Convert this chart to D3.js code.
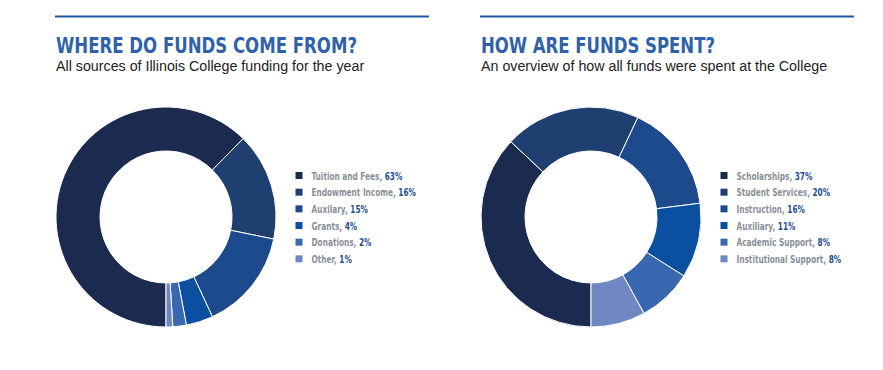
<!DOCTYPE html>
<html>
<head>
<meta charset="utf-8">
<script src="https://cdn.jsdelivr.net/npm/d3@7"></script>
<style>
  body { margin: 0; background: #fff; }
  .title { font-family: "DejaVu Sans Condensed", "DejaVu Sans", sans-serif; font-weight: bold; fill: #2f62a8; }
  .sub { font-family: "Liberation Sans", Arial, sans-serif; fill: #222; }
  .leg { font-family: "DejaVu Sans Condensed", "DejaVu Sans", sans-serif; font-weight: bold; }
</style>
</head>
<body>
<svg id="chart" width="883" height="370"></svg>
<script>
// Funds sources
const sourceLabels = ["Tuition and Fees", "Endowment Income", "Auxilary", "Grants", "Donations", "Other"];
const sourceValues = [63, 16, 15, 4, 2, 1];

// Funds spent
const spentLabels = ["Scholarships", "Student Services", "Instruction", "Auxiliary", "Academic Support", "Institutional Support"];
const spentValues = [37, 20, 16, 11, 8, 8];

const palette = ["#1b2a4f", "#1f3f70", "#1c4a8c", "#0a4fa0", "#3a68b0", "#6f88c4"];

const svg = d3.select("#chart");

function drawPanel(x0, title, titleWidth, subtitle, labels, values, cx, legendX) {
  const g = svg.append("g");

  // top rule
  g.append("line")
    .attr("x1", x0).attr("x2", x0 + 374)
    .attr("y1", 16.5).attr("y2", 16.5)
    .attr("stroke", "#1f57a0").attr("stroke-width", 2);

  // condensed look: squeeze the bold title to the reference width
  g.append("text").attr("class", "title")
    .attr("x", x0 + 1).attr("y", 53)
    .attr("font-size", 22)
    .attr("textLength", titleWidth)
    .attr("lengthAdjust", "spacingAndGlyphs")
    .text(title);

  g.append("text").attr("class", "sub")
    .attr("x", x0 + 1).attr("y", 71)
    .attr("font-size", 14.25)
    .text(subtitle);

  const data = labels.map((l, i) => ({ label: l, value: values[i] }));

  const pie = d3.pie()
    .value(d => d.value)
    .sort(null)
    .startAngle(Math.PI)
    .endAngle(Math.PI * 3);

  const arc = d3.arc().innerRadius(66).outerRadius(110);

  const donut = g.append("g").attr("transform", "translate(" + cx + ",217)");
  donut.selectAll("path")
    .data(pie(data))
    .enter().append("path")
    .attr("d", arc)
    .attr("fill", (d, i) => palette[i])
    .attr("stroke", "#fff")
    .attr("stroke-width", 1);

  const y = d3.scaleBand()
    .domain(labels)
    .range([167, 267]);

  const leg = g.selectAll(".legrow")
    .data(data)
    .enter().append("g")
    .attr("transform", d => "translate(" + legendX + "," + y(d.label) + ")");

  leg.append("rect")
    .attr("x", 0).attr("y", 5)
    .attr("width", 7).attr("height", 7)
    .attr("fill", (d, i) => palette[i]);

  const t = leg.append("text").attr("class", "leg")
    .attr("transform", "translate(16,12.5) scale(0.78,1)")
    .attr("font-size", 10.5);
  t.append("tspan").attr("fill", "#8a8f99").text(d => d.label + ", ");
  t.append("tspan").attr("fill", "#1f4f91").text(d => d.value + "%");
}

drawPanel(55, "WHERE DO FUNDS COME FROM?", 301, "All sources of Illinois College funding for the year",
  sourceLabels, sourceValues, 166, 295.5);
drawPanel(480, "HOW ARE FUNDS SPENT?", 234, "An overview of how all funds were spent at the College",
  spentLabels, spentValues, 591, 720.5);
</script>
</body>
</html>
